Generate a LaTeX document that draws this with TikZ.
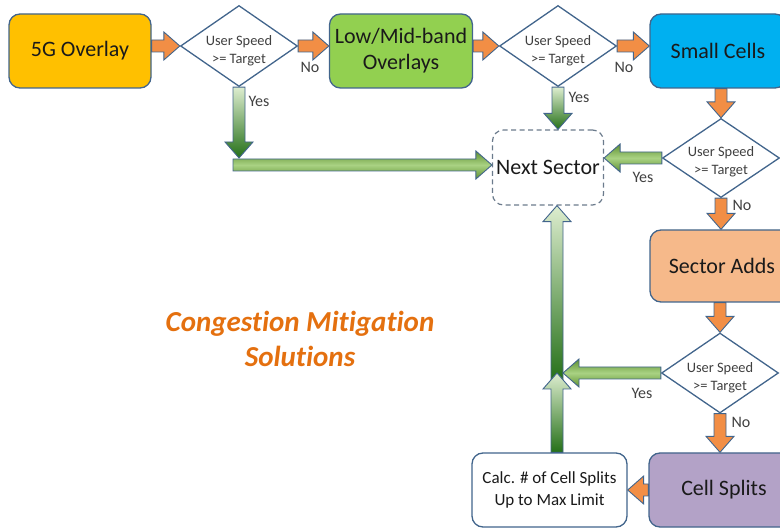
\documentclass[tikz,border=0pt]{standalone}
\usepackage{fontspec}
\setmainfont{Carlito}[Ligatures=NoCommon]
\usetikzlibrary{shapes.geometric,calc}
\definecolor{bord}{HTML}{42658C}
\definecolor{c5g}{HTML}{FFC000}
\definecolor{clow}{HTML}{92D050}
\definecolor{csmall}{HTML}{00B0F0}
\definecolor{csector}{HTML}{F6B98A}
\definecolor{ccells}{HTML}{B3A2C7}
\definecolor{oran}{HTML}{F28E45}
\definecolor{ttl}{HTML}{E4700F}
\definecolor{txt}{HTML}{1A1A1A}
\definecolor{dtxt}{HTML}{404040}
\definecolor{gl}{HTML}{DDEDCF}
\definecolor{gd}{HTML}{257018}
\definecolor{gm}{HTML}{5E9030}
\definecolor{gml}{HTML}{A9D283}
\definecolor{dashc}{HTML}{6B7B8C}
\newcommand\sw{6pt}
\newcommand\hw{14pt}
\newcommand\hl{16pt}
\newcommand\harr[3]{%
  \path[#1] let \p1=(#2), \p2=(#3), \n1={ifthenelse(\x2>\x1,1,-1)} in
   (\x1,{\y1+\sw}) -- ({\x2-(\n1)*\hl},{\y1+\sw}) -- ({\x2-(\n1)*\hl},{\y1+\hw})
   -- (\x2,\y1) -- ({\x2-(\n1)*\hl},{\y1-\hw}) -- ({\x2-(\n1)*\hl},{\y1-\sw})
   -- (\x1,{\y1-\sw}) -- cycle;}
\newcommand\varr[3]{%
  \path[#1] let \p1=(#2), \p2=(#3), \n1={ifthenelse(\y2>\y1,1,-1)} in
   ({\x1+\sw},\y1) -- ({\x1+\sw},{\y2-(\n1)*\hl}) -- ({\x1+\hw},{\y2-(\n1)*\hl})
   -- (\x1,\y2) -- ({\x1-\hw},{\y2-(\n1)*\hl}) -- ({\x1-\sw},{\y2-(\n1)*\hl})
   -- ({\x1-\sw},\y1) -- cycle;}
\begin{document}
\begin{tikzpicture}[x=1pt,y=1pt,
  box/.style={draw=bord, line width=1.3pt, rounded corners=11pt, text=txt,
    font=\fontsize{22}{26}\selectfont, align=center, inner sep=0pt},
  dec/.style={draw=bord, line width=1.3pt, diamond, aspect=1.43, inner sep=0pt,
    fill=white, minimum width=117pt, minimum height=81pt},
  dtext/.style={text=dtxt, font=\fontsize{14.4}{18}\selectfont, align=center, inner sep=0pt},
  lab/.style={text=dtxt, font=\fontsize{16}{18}\selectfont, inner sep=0pt},
  oarr/.style={draw=bord, line width=0.9pt, fill=oran},
  gdown/.style={draw=bord, line width=0.9pt, top color=gl, bottom color=gd},
  gup/.style={draw=bord, line width=0.9pt, top color=gl, bottom color=gd},
  ghor/.style={draw=bord, line width=0.9pt, top color=gm, bottom color=gm, middle color=gml}]
\useasboundingbox (0,0) rectangle (780,-529);
\clip (0,0) rectangle (780,-529);
% boxes
\node[box, fill=c5g, minimum width=142pt, minimum height=74pt] (g5) at (80,-51) {5G Overlay};
\node[box, fill=clow, minimum width=143pt, minimum height=74pt] (low) at (401,-51) {Low/Mid-band\\Overlays};
\node[box, fill=csmall, minimum width=136pt, minimum height=74pt] (small) at (718,-51) {Small Cells};
\node[box, fill=csector, minimum width=144pt, minimum height=72pt] (sector) at (722,-266) {Sector Adds};
\node[box, fill=ccells, minimum width=150pt, minimum height=74pt] (cells) at (724,-490) {Cell Splits};
\node[box, fill=white, minimum width=155pt, minimum height=74pt,
  font=\fontsize{17}{22}\selectfont] (calc) at (549.5,-490) {Calc. \# of Cell Splits\\Up to Max Limit};
\node[box, draw=dashc, line width=1.2pt, dash pattern=on 5pt off 3.5pt,
  minimum width=111pt, minimum height=75pt] (next) at (548,-167.5) {Next Sector};
% decisions
\node[dec] (d1) at (239,-46) {};
\node[dec] (d2) at (558,-46) {};
\node[dec, minimum height=79pt] (d3) at (721,-158) {};
\node[dec, minimum height=80pt] (d4) at (720,-373) {};
\node[dtext] (t1) at ($(d1)+(0,-5)$) {User Speed\\>= Target};
\node[dtext] (t2) at ($(d2)+(0,-5)$) {User Speed\\>= Target};
\node[dtext] (t3) at ($(d3)+(0,-4)$) {User Speed\\>= Target};
\node[dtext] (t4) at ($(d4)+(0,-5)$) {User Speed\\>= Target};
% helper coordinates
\coordinate (j1) at (239,-158);
\coordinate (h1) at (233,-165);
\coordinate (cb) at (557,-381);
\coordinate (cr) at (563,-373);
\coordinate (ct) at (557,-373);
% orange arrows
\harr{oarr}{g5.east |- d1.west}{d1.west}
\harr{oarr}{d1.east}{low.west |- d1.east}
\harr{oarr}{low.east |- d2.west}{d2.west}
\harr{oarr}{d2.east}{small.west |- d2.east}
\varr{oarr}{d3.north |- small.south}{d3.north}
\varr{oarr}{d3.south}{d3.south |- sector.north}
\varr{oarr}{d4.north |- sector.south}{d4.north}
\varr{oarr}{d4.south}{d4.south |- cells.north}
\harr{oarr}{cells.west}{calc.east |- cells.west}
% green arrows
\harr{ghor}{h1}{h1 -| next.west}
\varr{gdown}{d1.south}{d1.south |- j1}
\varr{gdown}{d2.south}{d2.south |- next.north}
\harr{ghor}{d3.west}{d3.west -| next.east}
\varr{gup}{cb}{cb |- next.south}
\harr{ghor}{d4.west}{d4.west -| cr}
\varr{gup}{calc.north -| cb}{ct}
% labels
\node[lab] (n1) at (310,-67) {No};
\node[lab] (y1) at (259,-101) {Yes};
\node[lab] (y2) at (579,-97) {Yes};
\node[lab] (n2) at (624,-67) {No};
\node[lab] (y3) at (643,-177) {Yes};
\node[lab] (n3) at (742,-205) {No};
\node[lab] (y4) at (642,-393) {Yes};
\node[lab] (n4) at (741,-422) {No};
% title
\node[text=ttl, align=center, font=\bfseries\itshape\fontsize{29}{35}\selectfont] (title) at (300,-339)
  {Congestion Mitigation\\Solutions};
\end{tikzpicture}
\end{document}
